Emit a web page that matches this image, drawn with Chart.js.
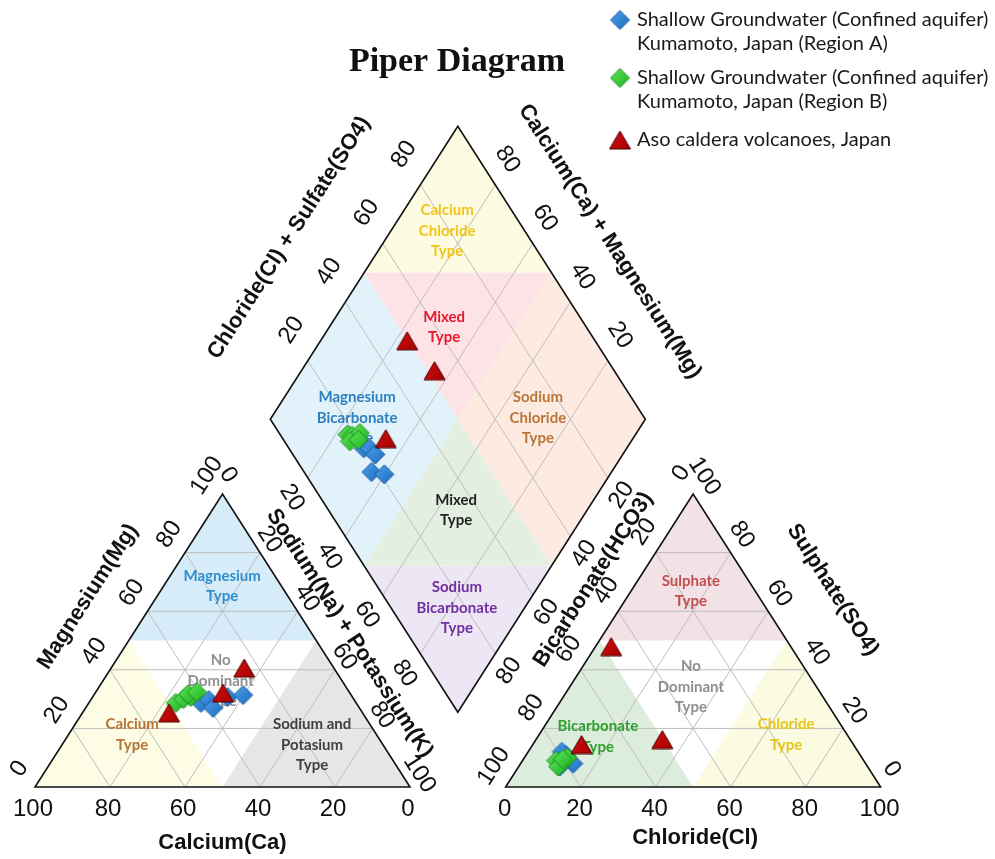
<!DOCTYPE html>
<html><head><meta charset="utf-8">
<script src="https://cdn.jsdelivr.net/npm/chart.js@4.4.1/dist/chart.umd.min.js"></script>
<style>html,body{margin:0;padding:0;background:#fff;}canvas{display:block;}</style>
</head><body>
<canvas id="c" width="995" height="859" style="width:995px;height:859px"></canvas>
<script>
// ---------------- DATA (% meq) ----------------
const seriesNames = [
  ['Shallow Groundwater (Confined aquifer)', 'Kumamoto, Japan (Region A)'],
  ['Shallow Groundwater (Confined aquifer)', 'Kumamoto, Japan (Region B)'],
  ['Aso caldera volcanoes, Japan']
];
// Region A (blue)
const regionA_Ca   = [41.4, 38.8, 39.0, 33.3, 28.8];
const regionA_Mg   = [28.7, 29.7, 27.0, 30.7, 31.4];
const regionA_NaK  = [29.9, 31.5, 34.0, 36.0, 39.8];
const regionA_HCO3 = [80.0, 78.5, 78.0, 82.0, 79.0];
const regionA_Cl   = [10.0, 10.5, 14.0, 11.0,  9.0];
const regionA_SO4  = [10.0, 11.0,  8.0,  7.0, 12.0];
// Region B (green)
const regionB_Ca   = [48.1, 45.4, 43.1, 43.3, 40.6];
const regionB_Mg   = [28.7, 30.0, 30.7, 31.7, 32.4];
const regionB_NaK  = [23.2, 24.6, 26.2, 25.0, 27.0];
const regionB_HCO3 = [82.0, 81.0, 78.5, 82.5, 80.0];
const regionB_Cl   = [ 9.0, 11.0, 11.5, 10.5, 10.5];
const regionB_SO4  = [ 9.0,  8.0, 10.0,  7.0,  9.5];
// Aso caldera (red)
const aso_Ca   = [51.6, 23.9, 33.8];
const aso_Mg   = [25.3, 40.6, 32.1];
const aso_NaK  = [23.1, 35.5, 34.1];
const aso_HCO3 = [50.1, 47.9, 72.5];
const aso_Cl   = [33.7,  4.2, 13.0];
const aso_SO4  = [16.2, 47.9, 14.5];

const triTicks = [0, 20, 40, 60, 80, 100];
const diaTicks = [20, 40, 60, 80];
const gridSteps = [20, 40, 60, 80];

// ---------------- GEOMETRY (units: triangle side = 100, height = 100) ----------------
const GAP = 25.5;
const OFF = 100 + GAP;
const X_MIN = -9.3333, X_MAX = 256.0;
const Y_MIN = -24.57, Y_MAX = 268.6;

function cat(ca, mg, na) { const s = ca + mg + na; mg = mg / s * 100; na = na / s * 100; return {x: na + mg / 2, y: mg}; }
function an(hco3, cl, so4) { const s = hco3 + cl + so4; cl = cl / s * 100; so4 = so4 / s * 100; return {x: OFF + cl + so4 / 2, y: so4}; }
function dia(nak, clso4) { const w = 100 - nak; return {x: 100 + GAP / 2 + (clso4 - w) / 2, y: GAP + clso4 + w}; }

function buildPoints(Ca, Mg, NaK, HCO3, Cl, SO4) {
  const pts = [];
  for (let i = 0; i < Ca.length; i++) {
    const c = Ca[i] + Mg[i] + NaK[i], a = HCO3[i] + Cl[i] + SO4[i];
    pts.push(cat(Ca[i], Mg[i], NaK[i]));
    pts.push(an(HCO3[i], Cl[i], SO4[i]));
    pts.push(dia(NaK[i] / c * 100, (Cl[i] + SO4[i]) / a * 100));
  }
  return pts;
}

// marker images (centred on their bounding box, like the reference)
function markerImage(shape, w, h, c1, c2, stroke) {
  const cv = document.createElement('canvas'); cv.width = w + 2; cv.height = h + 2;
  const g = cv.getContext('2d');
  const grd = g.createLinearGradient(0, 0, w, h); grd.addColorStop(0, c1); grd.addColorStop(1, c2);
  g.beginPath();
  if (shape === 'tri') { g.moveTo(1 + w / 2, 1); g.lineTo(1 + w, 1 + h); g.lineTo(1, 1 + h); }
  else { g.moveTo(1 + w / 2, 1); g.lineTo(1 + w, 1 + h / 2); g.lineTo(1 + w / 2, 1 + h); g.lineTo(1, 1 + h / 2); }
  g.closePath(); g.fillStyle = grd; g.fill(); g.strokeStyle = stroke; g.lineWidth = 1; g.stroke();
  return cv;
}
const blueMarker  = markerImage('dia', 19, 19, '#4fa3ec', '#1f6fc0', '#1a5a9c');
const greenMarker = markerImage('dia', 19, 19, '#5fe85f', '#22b522', '#1f8a1f');
const redMarker   = markerImage('tri', 21, 18, '#d81010', '#a80000', '#4a0000');

const regionFills = [
  {pts: [cat(50,50,0), cat(0,100,0), cat(0,50,50)], color: '#d6ecf8'},
  {pts: [cat(100,0,0), cat(50,0,50), cat(50,50,0)], color: '#fdfde6'},
  {pts: [cat(50,0,50), cat(0,0,100), cat(0,50,50)], color: '#e6e6e6'},
  {pts: [an(50,0,50), an(0,0,100), an(0,50,50)], color: '#f3e2e5'},
  {pts: [an(100,0,0), an(50,50,0), an(50,0,50)], color: '#dcecdd'},
  {pts: [an(50,50,0), an(0,100,0), an(0,50,50)], color: '#fbfbe2'},
  {pts: [dia(0,50), dia(0,100), dia(50,100)], color: '#fdfce2'},
  {pts: [dia(0,50), dia(50,100), dia(50,50)], color: '#fde3e6'},
  {pts: [dia(0,50), dia(50,50), dia(50,0), dia(0,0)], color: '#e2f2fb'},
  {pts: [dia(50,100), dia(100,100), dia(100,50), dia(50,50)], color: '#fdebe1'},
  {pts: [dia(50,0), dia(50,50), dia(100,50)], color: '#e3f0e1'},
  {pts: [dia(50,0), dia(100,50), dia(100,0)], color: '#ede6f4'}
];

const regionLabels = [
  {lines: ['Magnesium', 'Type'], at: {x: 49.9, y: 68.6}, color: '#2f8dcc'},
  {lines: ['No', 'Dominant', 'Type'], at: {x: 49.5, y: 36.2}, color: '#8f8f8f'},
  {lines: ['Calcium', 'Type'], at: {x: 25.9, y: 17.9}, color: '#b8733a'},
  {lines: ['Sodium and', 'Potasium', 'Type'], at: {x: 73.9, y: 14.3}, color: '#404040'},
  {lines: ['Sulphate', 'Type'], at: {x: 174.9, y: 66.9}, color: '#c0504d'},
  {lines: ['No', 'Dominant', 'Type'], at: {x: 174.9, y: 34.1}, color: '#8f8f8f'},
  {lines: ['Bicarbonate', 'Type'], at: {x: 150.1, y: 17.1}, color: '#2ea02e'},
  {lines: ['Chloride', 'Type'], at: {x: 200.3, y: 17.8}, color: '#e6c619'},
  {lines: ['Calcium', 'Chloride', 'Type'], at: {x: 109.9, y: 189.8}, color: '#f0c419'},
  {lines: ['Mixed', 'Type'], at: {x: 109.1, y: 157.0}, color: '#e8192c'},
  {lines: ['Magnesium', 'Bicarbonate', 'Type'], at: {x: 85.9, y: 125.9}, color: '#2e7fc0'},
  {lines: ['Sodium', 'Chloride', 'Type'], at: {x: 134.1, y: 125.9}, color: '#b9763a'},
  {lines: ['Mixed', 'Type'], at: {x: 112.3, y: 94.5}, color: '#222222'},
  {lines: ['Sodium', 'Bicarbonate', 'Type'], at: {x: 112.5, y: 61.1}, color: '#7030a0'}
];

const TICK_FONT = "24px 'Liberation Sans', Arial, sans-serif";
const TITLE_FONT = "bold 22px 'Liberation Sans', Arial, sans-serif";
const REGION_FONT = "bold 15px Lato, 'Open Sans', sans-serif";
const LEGEND_FONT = "20px Lato, 'Open Sans', sans-serif";

function text(ctx, s, x, y, font, color, rot) {
  ctx.save(); ctx.translate(x, y); ctx.rotate(rot || 0);
  ctx.font = font; ctx.fillStyle = color; ctx.textAlign = 'center'; ctx.textBaseline = 'middle';
  ctx.fillText(s, 0, 0); ctx.restore();
}

const piperPlugin = {
  id: 'piper',
  beforeDatasetsDraw(chart) {
    const ctx = chart.ctx, sx = chart.scales.x, sy = chart.scales.y;
    const P = p => [sx.getPixelForValue(p.x), sy.getPixelForValue(p.y)];
    const path = pts => { ctx.beginPath(); pts.forEach((p, i) => { const q = P(p); i ? ctx.lineTo(q[0], q[1]) : ctx.moveTo(q[0], q[1]); }); ctx.closePath(); };
    const seg = (a, b) => { const p = P(a), q = P(b); ctx.beginPath(); ctx.moveTo(p[0], p[1]); ctx.lineTo(q[0], q[1]); ctx.stroke(); };
    ctx.save();
    regionFills.forEach(r => { path(r.pts); ctx.fillStyle = r.color; ctx.fill(); });
    ctx.strokeStyle = '#bdbdbd'; ctx.lineWidth = 1;
    gridSteps.forEach(k => {
      seg(cat(100-k, k, 0), cat(0, k, 100-k));
      seg(cat(k, 0, 100-k), cat(k, 100-k, 0));
      seg(cat(100-k, 0, k), cat(0, 100-k, k));
      seg(an(100-k, 0, k), an(0, 100-k, k));
      seg(an(k, 100-k, 0), an(k, 0, 100-k));
      seg(an(100-k, k, 0), an(0, k, 100-k));
      seg(dia(k, 0), dia(k, 100));
      seg(dia(0, k), dia(100, k));
    });
    ctx.strokeStyle = '#111'; ctx.lineWidth = 1.6; ctx.lineJoin = 'miter';
    path([cat(100,0,0), cat(0,0,100), cat(0,100,0)]); ctx.stroke();
    path([an(100,0,0), an(0,100,0), an(0,0,100)]); ctx.stroke();
    path([dia(100,0), dia(100,100), dia(0,100), dia(0,0)]); ctx.stroke();

    regionLabels.forEach(r => {
      const c = P(r.at), n = r.lines.length;
      r.lines.forEach((s, i) => text(ctx, s, c[0], c[1] + (i - (n - 1) / 2) * 20.5, REGION_FONT, r.color, 0));
    });

    const edge = (A, B) => { const a = P(A), b = P(B), dx = b[0]-a[0], dy = b[1]-a[1], L = Math.hypot(dx, dy);
      const t = [dx/L, dy/L]; return {a, b, t, n: [t[1], -t[0]], ang: Math.atan2(dy, dx)}; };
    const place = (e, pt, dn, dt) => { const p = P(pt); return [p[0] + e.n[0]*dn + e.t[0]*dt, p[1] + e.n[1]*dn + e.t[1]*dt]; };
    const eMg   = edge(cat(100,0,0), cat(0,100,0));
    const eNa   = edge(cat(0,100,0), cat(0,0,100));
    const eDLL  = edge(dia(0,0), dia(100,0));
    const eHCO3 = edge(an(100,0,0), an(0,0,100));
    const eDLR  = edge(dia(100,0), dia(100,100));
    const eSO4  = edge(an(0,0,100), an(0,100,0));
    const eDUL  = edge(dia(0,0), dia(0,100));
    const eDUR  = edge(dia(0,100), dia(100,100));

    triTicks.forEach(k => {
      let p = P(cat(k, 0, 100-k)); text(ctx, String(k), p[0]-2, p[1]+22, TICK_FONT, '#111', 0);
      p = P(an(100-k, k, 0)); text(ctx, String(k), p[0]-1, p[1]+22, TICK_FONT, '#111', 0);
      p = place(eMg, cat(100-k, k, 0), 23, 7); text(ctx, String(k), p[0], p[1], TICK_FONT, '#111', eMg.ang);
      p = place(eNa, cat(0, 100-k, k), 15, k === 0 ? -13 : -6); text(ctx, String(k), p[0], p[1], TICK_FONT, '#111', eNa.ang);
      p = place(eHCO3, an(k, 0, 100-k), 21, 11); text(ctx, String(k), p[0], p[1], TICK_FONT, '#111', eHCO3.ang);
      p = place(eSO4, an(0, 100-k, k), 19, -9); text(ctx, String(k), p[0], p[1], TICK_FONT, '#111', eSO4.ang);
    });
    diaTicks.forEach(k => {
      let p = place(eDLL, dia(k, 0), -24, 8); text(ctx, String(k), p[0], p[1], TICK_FONT, '#111', eDLL.ang);
      p = place(eDLR, dia(100, 100-k), -21, -7); text(ctx, String(k), p[0], p[1], TICK_FONT, '#111', eDLR.ang);
      p = place(eDUL, dia(0, k), 30, 17); text(ctx, String(k), p[0], p[1], TICK_FONT, '#111', eDUL.ang);
      p = place(eDUR, dia(100-k, 100), 24, -15); text(ctx, String(k), p[0], p[1], TICK_FONT, '#111', eDUR.ang);
    });

    const mid = (e) => ({x: sx.getValueForPixel((e.a[0]+e.b[0])/2), y: sy.getValueForPixel((e.a[1]+e.b[1])/2)});
    let p = P(cat(50, 0, 50)); text(ctx, 'Calcium(Ca)', p[0], p[1]+56, TITLE_FONT, '#111', 0);
    p = P(an(50, 50, 0)); text(ctx, 'Chloride(Cl)', p[0]+2, p[1]+51, TITLE_FONT, '#111', 0);
    p = place(eMg, mid(eMg), 58, 15); text(ctx, 'Magnesium(Mg)', p[0], p[1], TITLE_FONT, '#111', eMg.ang);
    p = place(eNa, mid(eNa), 32, 12); text(ctx, 'Sodium(Na) + Potassium(K)', p[0], p[1], TITLE_FONT, '#111', eNa.ang);
    p = place(eHCO3, mid(eHCO3), 38, 48); text(ctx, 'Bicarbonate(HCO3)', p[0], p[1], TITLE_FONT, '#111', eHCO3.ang);
    p = place(eSO4, mid(eSO4), 66, -18); text(ctx, 'Sulphate(SO4)', p[0], p[1], TITLE_FONT, '#111', eSO4.ang);
    p = place(eDUL, mid(eDUL), 82, -11); text(ctx, 'Chloride(Cl) + Sulfate(SO4)', p[0], p[1], TITLE_FONT, '#111', eDUL.ang);
    p = place(eDUR, mid(eDUR), 66, 5); text(ctx, 'Calcium(Ca) + Magnesium(Mg)', p[0], p[1], TITLE_FONT, '#111', eDUR.ang);

    text(ctx, 'Piper Diagram', 457, 62, "bold 34px 'Liberation Serif', 'Times New Roman', serif", '#111', 0);

    const leg = [
      {y: 20, lines: seriesNames[0], img: blueMarker},
      {y: 78, lines: seriesNames[1], img: greenMarker},
      {y: 140, lines: seriesNames[2], img: redMarker}
    ];
    leg.forEach(l => {
      ctx.drawImage(l.img, 620 - l.img.width / 2, l.y - l.img.height / 2);
      l.lines.forEach((s, i) => {
        ctx.font = LEGEND_FONT; ctx.fillStyle = '#1a1a1a'; ctx.textAlign = 'left'; ctx.textBaseline = 'middle';
        ctx.fillText(s, 637, l.y + i * 23.5);
      });
    });
    ctx.restore();
  }
};

new Chart(document.getElementById('c'), {
  type: 'scatter',
  data: {
    datasets: [
      {label: seriesNames[0].join(' '), data: buildPoints(regionA_Ca, regionA_Mg, regionA_NaK, regionA_HCO3, regionA_Cl, regionA_SO4),
       pointStyle: blueMarker, pointRadius: 9.5, order: 3},
      {label: seriesNames[1].join(' '), data: buildPoints(regionB_Ca, regionB_Mg, regionB_NaK, regionB_HCO3, regionB_Cl, regionB_SO4),
       pointStyle: greenMarker, pointRadius: 9.5, order: 2},
      {label: seriesNames[2][0], data: buildPoints(aso_Ca, aso_Mg, aso_NaK, aso_HCO3, aso_Cl, aso_SO4),
       pointStyle: redMarker, pointRadius: 11, order: 1}
    ]
  },
  options: {
    responsive: false, animation: false, devicePixelRatio: 1, events: [],
    layout: {padding: 0, autoPadding: false},
    scales: {
      x: {type: 'linear', min: X_MIN, max: X_MAX, display: false},
      y: {type: 'linear', min: Y_MIN, max: Y_MAX, display: false}
    },
    plugins: {legend: {display: false}, tooltip: {enabled: false}}
  },
  plugins: [piperPlugin]
});
</script>
</body></html>
